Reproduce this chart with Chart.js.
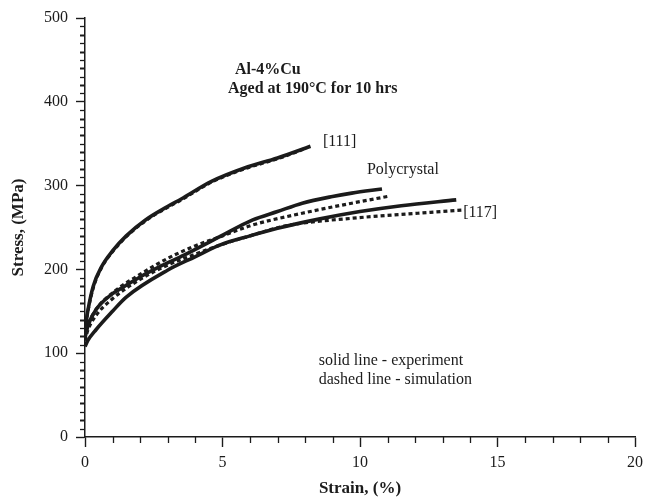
<!DOCTYPE html>
<html>
<head>
<meta charset="utf-8">
<script src="https://cdn.jsdelivr.net/npm/chart.js@4.4.1/dist/chart.umd.min.js"></script>
<style>
  html, body { margin: 0; padding: 0; background: #ffffff; }
  #wrap { width: 652px; height: 500px; position: relative; }
</style>
</head>
<body>
<div id="wrap"><canvas id="c" width="652" height="500"></canvas></div>
<script>
// Stress-strain curves, Al-4%Cu aged at 190°C for 10 hrs
const strain111Exp = [0, 0.1, 0.3, 0.6, 1.0, 1.5, 2.2, 3.0, 3.5, 4.6, 5.8, 7.0, 8.2];
const stress111Exp = [128, 150, 180, 203, 222, 240, 259, 275, 284, 305, 321, 333, 347];
const strain111Sim = [0, 0.1, 0.3, 0.6, 1.0, 1.5, 2.2, 3.0, 3.5, 4.6, 5.8, 7.0, 8.0];
const stress111Sim = [126, 149, 178, 202, 221, 239, 258, 274, 283, 304, 320, 332, 344];

const strainPolyExp = [0, 0.1, 0.4, 1.0, 1.4, 2.0, 2.7, 3.6, 4.9, 6.1, 7.0, 7.9, 9.0, 9.7, 10.8];
const stressPolyExp = [118, 132, 152, 171, 179, 191, 203, 217, 239, 259, 269, 279, 287, 291, 296];
const strainPolySim = [0, 0.1, 0.4, 1.0, 2.0, 3.0, 4.0, 5.0, 6.1, 7.9, 9.7, 11.0];
const stressPolySim = [120, 133, 152, 172, 194, 213, 228, 240, 253, 267, 279, 287];

const strain117Exp = [0, 0.1, 0.4, 1.0, 1.5, 3.0, 4.0, 4.9, 6.0, 7.0, 8.5, 10.0, 11.5, 13.5];
const stress117Exp = [108, 115, 128, 150, 167, 199, 215, 229, 240, 249, 260, 269, 276, 283];
const strain117Sim = [0, 0.1, 0.4, 1.0, 2.0, 3.0, 4.0, 5.0, 6.0, 7.3, 9.7, 12.1, 13.8];
const stress117Sim = [115, 127, 145, 165, 188, 205, 218, 230, 240, 252, 261, 267, 271];

// Axis tick values
const xTicks = [0, 5, 10, 15, 20];
const yTicks = [0, 100, 200, 300, 400, 500];

// Text placed in data coordinates
const notes = [
  { text: 'Al-4%Cu', x: 5.45, y: 438, bold: true },
  { text: 'Aged at 190°C for 10 hrs', x: 5.2, y: 416, bold: true },
  { text: '[111]', x: 8.65, y: 352, bold: false },
  { text: 'Polycrystal', x: 10.25, y: 319, bold: false },
  { text: '[117]', x: 13.75, y: 267, bold: false },
  { text: 'solid line - experiment', x: 8.5, y: 91, bold: false },
  { text: 'dashed line - simulation', x: 8.5, y: 68, bold: false }
];

const INK = '#1b1b1b';
const SERIF = '"Liberation Serif", "DejaVu Serif", serif';

function pts(xs, ys) { return xs.map((x, i) => ({ x: x, y: ys[i] })); }

function series(xs, ys, dashed) {
  return {
    data: pts(xs, ys),
    showLine: true,
    borderColor: INK,
    backgroundColor: INK,
    borderWidth: dashed ? 3.2 : 3.6,
    borderDash: dashed ? [4, 3] : [],
    pointRadius: 0,
    cubicInterpolationMode: 'monotone',
    fill: false
  };
}

const decor = {
  id: 'decor',
  beforeDraw(chart) {
    const ctx = chart.ctx;
    ctx.save();
    ctx.fillStyle = '#ffffff';
    ctx.fillRect(0, 0, chart.width, chart.height);
    ctx.restore();
  },
  afterDraw(chart) {
    const ctx = chart.ctx;
    const xs = chart.scales.x, ys = chart.scales.y;
    ctx.save();
    ctx.strokeStyle = INK;
    ctx.lineWidth = 1.3;
    // minor ticks on the strain axis
    for (let v = 1; v < 20; v++) {
      if (v % 5 === 0) continue;
      const px = Math.round(xs.getPixelForValue(v)) + 0.5;
      ctx.beginPath();
      ctx.moveTo(px, ys.bottom);
      ctx.lineTo(px, ys.bottom + 6);
      ctx.stroke();
    }
    // minor ticks on the stress axis
    for (let v = 10; v < 500; v += 10) {
      if (v % 100 === 0) continue;
      const py = Math.round(ys.getPixelForValue(v)) + 0.5;
      ctx.lineWidth = (v % 20 === 0) ? 2 : 1.3;
      ctx.beginPath();
      ctx.moveTo(xs.left, py);
      ctx.lineTo(xs.left - 5, py);
      ctx.stroke();
    }
    // annotations
    ctx.fillStyle = INK;
    ctx.textBaseline = 'middle';
    ctx.textAlign = 'left';
    notes.forEach(n => {
      ctx.font = (n.bold ? 'bold ' : '') + '16px ' + SERIF;
      ctx.fillText(n.text, xs.getPixelForValue(n.x), ys.getPixelForValue(n.y));
    });
    ctx.restore();
  }
};

new Chart(document.getElementById('c'), {
  type: 'scatter',
  data: {
    datasets: [
      series(strain111Exp, stress111Exp, false),
      series(strain111Sim, stress111Sim, true),
      series(strainPolyExp, stressPolyExp, false),
      series(strainPolySim, stressPolySim, true),
      series(strain117Exp, stress117Exp, false),
      series(strain117Sim, stress117Sim, true)
    ]
  },
  options: {
    responsive: false,
    animation: false,
    layout: { padding: { top: 18, right: 17, left: 0, bottom: 0 } },
    plugins: { legend: { display: false }, tooltip: { enabled: false } },
    scales: {
      x: {
        type: 'linear',
        min: xTicks[0],
        max: xTicks[xTicks.length - 1],
        afterBuildTicks(scale) { scale.ticks = xTicks.map(v => ({ value: v })); },
        afterFit(scale) { scale.height = 63; },
        border: { display: true, color: INK, width: 1.5 },
        grid: { drawOnChartArea: false, drawTicks: true, tickLength: 10, color: INK, tickWidth: 1.4 },
        ticks: { color: INK, padding: 6, font: { family: SERIF, size: 16 }, maxRotation: 0 },
        title: {
          display: true, text: 'Strain, (%)', color: INK,
          font: { family: SERIF, size: 17, weight: 'bold' },
          padding: { top: 2, bottom: 1 }
        }
      },
      y: {
        type: 'linear',
        min: yTicks[0],
        max: yTicks[yTicks.length - 1],
        afterBuildTicks(scale) { scale.ticks = yTicks.map(v => ({ value: v })); },
        afterFit(scale) { scale.width = 85; },
        border: { display: true, color: INK, width: 1.5 },
        grid: { drawOnChartArea: false, drawTicks: true, tickLength: 9, color: INK, tickWidth: 1.4 },
        ticks: { color: INK, padding: 8, font: { family: SERIF, size: 16 } },
        title: {
          display: true, text: 'Stress, (MPa)', color: INK,
          font: { family: SERIF, size: 17, weight: 'bold' },
          padding: { top: 8, bottom: 4 }
        }
      }
    }
  },
  plugins: [decor]
});
</script>
</body>
</html>
